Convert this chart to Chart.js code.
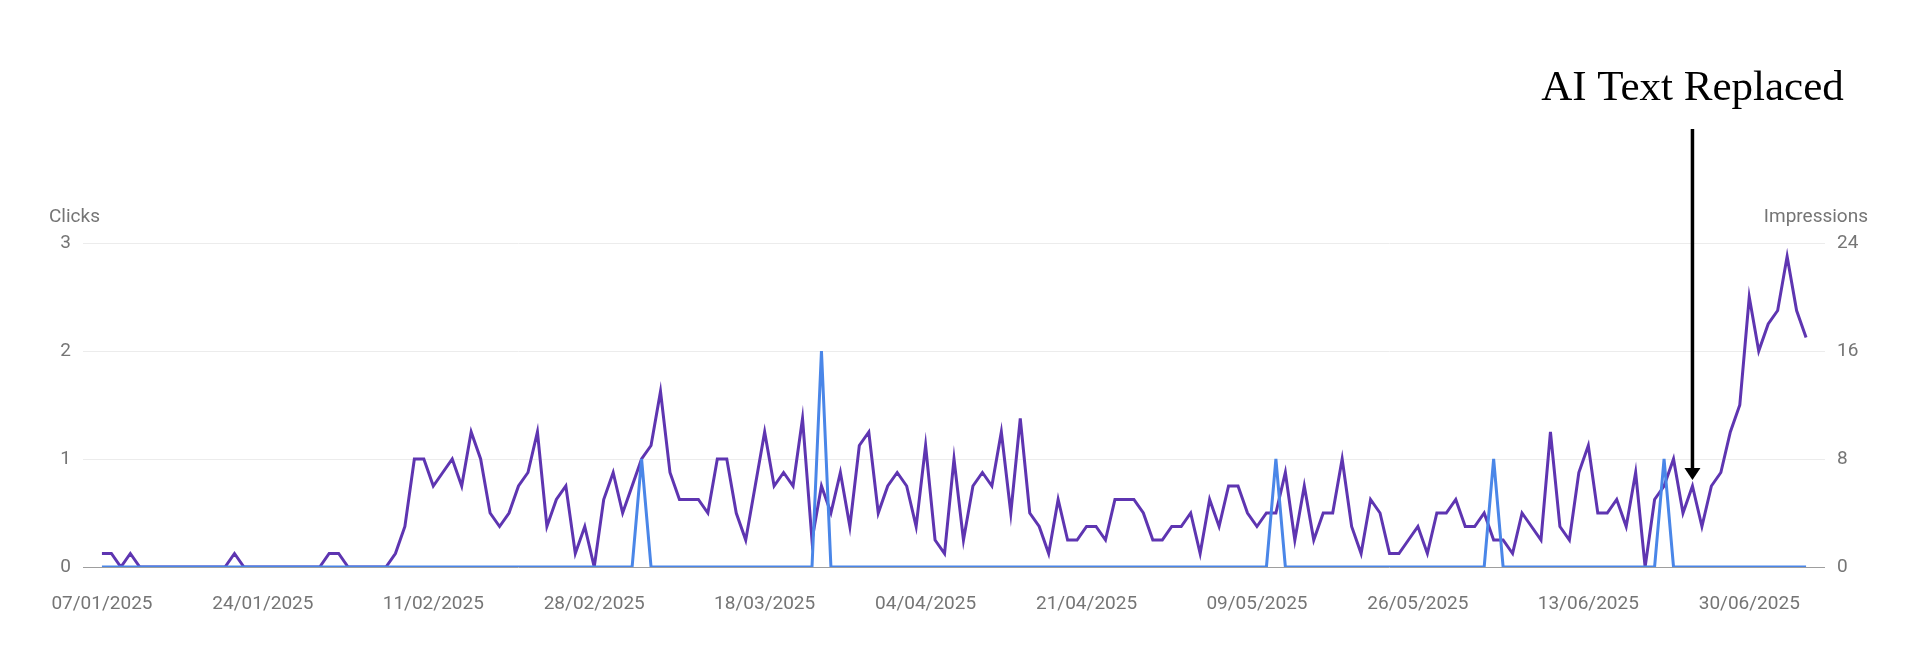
<!DOCTYPE html>
<html>
<head>
<meta charset="utf-8">
<script src="https://cdn.jsdelivr.net/npm/chart.js@4"></script>
<style>
  html, body { margin: 0; padding: 0; background: #fff; }
  #wrap { width: 1920px; height: 665px; position: relative; }
</style>
</head>
<body>
<div id="wrap"><canvas id="graph"></canvas></div>
<script>
// daily data, 07/01/2025 .. 06/07/2025
var startDate = "2025-01-07";
var dayCount = 181;

var impressions = [
	1,1,0,1,0,0,0,0,0,0,
	0,0,0,0,1,0,0,0,0,0,
	0,0,0,0,1,1,0,0,0,0,
	0,1,3,8,8,6,7,8,6,10,
	8,4,3,4,6,7,10,3,5,6,
	1,3,0,5,7,4,6,8,9,13,
	7,5,5,5,4,8,8,4,2,6,
	10,6,7,6,11,2,6,4,7,3,
	9,10,4,6,7,6,3,9,2,1,
	8,2,6,7,6,10,4,11,4,3,
	1,5,2,2,3,3,2,5,5,5,
	4,2,2,3,3,4,1,5,3,6,
	6,4,3,4,4,7,2,6,2,4,
	4,8,3,1,5,4,1,1,2,3,
	1,4,4,5,3,3,4,2,2,1,
	4,3,2,10,3,2,7,9,4,4,
	5,3,7,0,5,6,8,4,6,3,
	6,7,10,12,20,16,18,19,23,19,17
];

var clicks = [
	0,0,0,0,0,0,0,0,0,0,
	0,0,0,0,0,0,0,0,0,0,
	0,0,0,0,0,0,0,0,0,0,
	0,0,0,0,0,0,0,0,0,0,
	0,0,0,0,0,0,0,0,0,0,
	0,0,0,0,0,0,0,1,0,0,
	0,0,0,0,0,0,0,0,0,0,
	0,0,0,0,0,0,2,0,0,0,
	0,0,0,0,0,0,0,0,0,0,
	0,0,0,0,0,0,0,0,0,0,
	0,0,0,0,0,0,0,0,0,0,
	0,0,0,0,0,0,0,0,0,0,
	0,0,0,0,1,0,0,0,0,0,
	0,0,0,0,0,0,0,0,0,0,
	0,0,0,0,0,0,0,1,0,0,
	0,0,0,0,0,0,0,0,0,0,
	0,0,0,0,0,1,0,0,0,0,
	0,0,0,0,0,0,0,0,0,0,0
];

var tickLabels = ["07/01/2025","24/01/2025","11/02/2025","28/02/2025","18/03/2025","04/04/2025",
	"21/04/2025","09/05/2025","26/05/2025","13/06/2025","30/06/2025"];

var clickTicks = [0, 1, 2, 3];
var impressionTicks = [0, 8, 16, 24];

var noteText = "AI Text Replaced";
var noteDate = "24/06/2025";

// build dd/mm/yyyy labels
var dates = [];
var t0 = Date.parse(startDate + "T00:00:00Z");
for (var i = 0; i < dayCount; i++) {
	var d = new Date(t0 + i * 86400000);
	var dd = ("0" + d.getUTCDate()).slice(-2);
	var mm = ("0" + (d.getUTCMonth() + 1)).slice(-2);
	dates.push(dd + "/" + mm + "/" + d.getUTCFullYear());
}

var toPoints = function(arr) {
	return arr.map(function(v, i) { return {x: i, y: v}; });
};

var tickFont = {family: "Roboto", size: 19};
var grey = "#757575";

var extras = {
	id: "extras",
	afterDraw: function(chart) {
		var c = chart.ctx;
		var area = chart.chartArea;
		var xs = chart.scales.x;
		var y1 = chart.scales.y1;

		c.save();
		// axis titles
		c.font = "19px Roboto";
		c.fillStyle = grey;
		c.textBaseline = "middle";
		c.textAlign = "left";
		c.fillText("Clicks", area.left - 34, area.top - 26);
		c.textAlign = "right";
		c.fillText("Impressions", area.right + 43, area.top - 26);

		// annotation arrow
		var idx = dates.indexOf(noteDate);
		var ax = xs.getPixelForValue(idx);
		var tip = y1.getPixelForValue(impressions[idx]) - 6;
		var top = area.top - 114;
		c.strokeStyle = "#000";
		c.fillStyle = "#000";
		c.lineWidth = 3.5;
		c.beginPath();
		c.moveTo(ax, top);
		c.lineTo(ax, tip - 10);
		c.stroke();
		c.beginPath();
		c.moveTo(ax - 8, tip - 12);
		c.lineTo(ax + 8, tip - 12);
		c.lineTo(ax, tip);
		c.closePath();
		c.fill();

		c.font = "43px 'Liberation Serif'";
		c.textAlign = "center";
		c.textBaseline = "alphabetic";
		c.fillText(noteText, ax, area.top - 143);
		c.restore();
	}
};

var ctx = document.getElementById("graph").getContext("2d");
var myChart = new Chart(ctx, {
	type: "line",
	data: {
		datasets: [
			{
				label: "Clicks",
				data: toPoints(clicks),
				yAxisID: "y",
				borderColor: "#4a86e8",
				backgroundColor: "#4a86e8",
				borderWidth: 3,
				pointRadius: 0,
				tension: 0,
				fill: false
			},
			{
				label: "Impressions",
				data: toPoints(impressions),
				yAxisID: "y1",
				borderColor: "#5e35b1",
				backgroundColor: "#5e35b1",
				borderWidth: 3,
				pointRadius: 0,
				tension: 0,
				fill: false
			}
		]
	},
	options: {
		responsive: true,
		maintainAspectRatio: false,
		animation: false,
		layout: {padding: {top: 243, left: 0, right: 0, bottom: 0}},
		plugins: {
			legend: {display: false},
			tooltip: {enabled: false}
		},
		scales: {
			x: {
				type: "linear",
				min: -2,
				max: 182,
				grid: {display: false, drawTicks: false},
				border: {display: false},
				afterFit: function(scale) { scale.height = 98; },
				afterBuildTicks: function(scale) {
					scale.ticks = tickLabels.map(function(l) { return {value: dates.indexOf(l)}; });
				},
				ticks: {
					autoSkip: false,
					maxRotation: 0,
					padding: 26,
					color: grey,
					font: tickFont,
					callback: function(v) { return dates[v]; }
				}
			},
			y: {
				position: "left",
				min: 0,
				max: 3,
				afterFit: function(scale) { scale.width = 83; },
				afterBuildTicks: function(scale) {
					scale.ticks = clickTicks.map(function(v) { return {value: v}; });
				},
				grid: {
					drawTicks: false,
					color: function(c) { return c.tick && c.tick.value === 0 ? "#9e9e9e" : "#ececec"; },
					lineWidth: 1
				},
				border: {display: false},
				ticks: {padding: 12, color: grey, font: tickFont}
			},
			y1: {
				position: "right",
				min: 0,
				max: 24,
				afterFit: function(scale) { scale.width = 95; },
				afterBuildTicks: function(scale) {
					scale.ticks = impressionTicks.map(function(v) { return {value: v}; });
				},
				grid: {drawOnChartArea: false, drawTicks: false},
				border: {display: false},
				ticks: {padding: 12, color: grey, font: tickFont}
			}
		}
	},
	plugins: [extras]
});
</script>
</body>
</html>
